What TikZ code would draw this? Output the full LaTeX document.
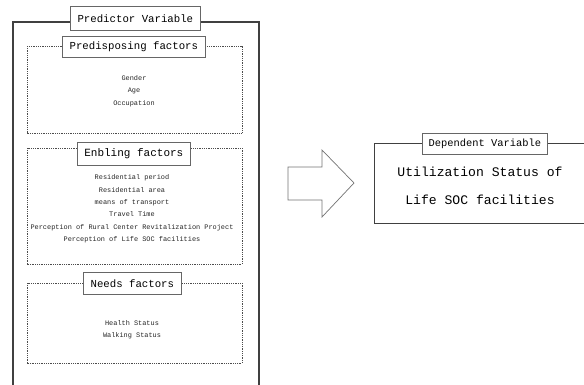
\documentclass[tikz,border=0pt]{standalone}
\usepackage{fontspec}
\setmainfont{Liberation Mono}
\begin{document}
\begin{tikzpicture}[x=1pt,y=-1pt,
  outerbox/.style={draw=black!75,line width=1.3pt},
  dotbox/.style={draw=black!70,line width=0.9pt,dash pattern=on 0.9pt off 0.9pt},
  titlebox/.style={draw=black!60,fill=white,line width=0.7pt,inner sep=0pt,anchor=north west},
  body/.style={font=\fontsize{6.9}{12.4}\selectfont,align=center,inner sep=0pt,text=black!85}]
\useasboundingbox (0,0) rectangle (584,384);
\clip (0,0) rectangle (584,384);
% outer predictor box
\draw[outerbox] (13,395) -- (13,22) -- (259,22) -- (259,395);
\node[titlebox,minimum width=130pt,minimum height=24pt,font=\fontsize{10.7}{12}\selectfont] (pv) at (70,6) {Predictor Variable};
% predisposing
\draw[dotbox] (27,46) rectangle (242,133);
\node[titlebox,minimum width=143pt,minimum height=21pt,font=\fontsize{10.7}{12}\selectfont] (pf) at (62,36) {Predisposing factors};
\node[body] (pft) at (134,91) {Gender\\Age\\Occupation};
% enabling
\draw[dotbox] (27,148) rectangle (242,264);
\node[titlebox,minimum width=113pt,minimum height=23pt,font=\fontsize{11}{12}\selectfont] (ef) at (77,142) {Enbling factors};
\node[body] (eft) at (132,209) {Residential period\\Residential area\\means of transport\\Travel Time\\Perception of Rural Center Revitalization Project\\Perception of Life SOC facilities};
% needs
\draw[dotbox] (27,283) rectangle (242,363);
\node[titlebox,minimum width=98pt,minimum height=22pt,font=\fontsize{10.7}{12}\selectfont] (nf) at (83,272) {Needs factors};
\node[body] (nft) at (132,329.5) {Health Status\\Walking Status};
% arrow
\draw[draw=black!55,line width=0.7pt,fill=white] (288,167) -- (322,167) -- (322,150) -- (354,183) -- (322,217) -- (322,200) -- (288,200) -- cycle;
% dependent box
\draw[outerbox,line width=1pt] (595,143) -- (374,143) -- (374,223) -- (595,223);
\node[titlebox,minimum width=125pt,minimum height=21pt,font=\fontsize{10.4}{12}\selectfont] (dv) at (422,133) {Dependent Variable};
\node[inner sep=0pt,align=center,font=\fontsize{13.1}{28}\selectfont] (dvt) at (480,186) {Utilization Status of\\Life SOC facilities};
\end{tikzpicture}
\end{document}
